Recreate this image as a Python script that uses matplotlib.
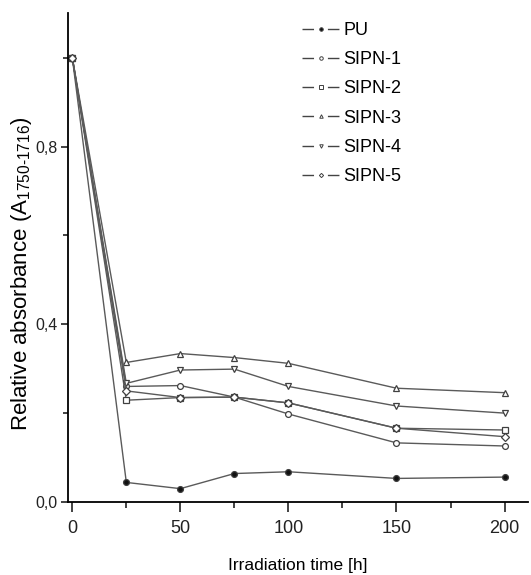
import matplotlib
matplotlib.use("Agg")
import matplotlib.pyplot as plt
from matplotlib.lines import Line2D
from matplotlib.ticker import FixedLocator, FuncFormatter

plt.rcParams['font.family'] = ['Liberation Sans', 'DejaVu Sans']
plt.rcParams['mathtext.fontset'] = 'custom'
plt.rcParams['mathtext.rm'] = 'Liberation Sans'
plt.rcParams['mathtext.it'] = 'Liberation Sans'

# irradiation times [h]
time_h = [0, 25, 50, 75, 100, 150, 200]

# relative absorbance of the carbonyl band
pu = [1.0, 0.044, 0.030, 0.064, 0.068, 0.053, 0.056]
sipn1 = [1.0, 0.260, 0.262, 0.236, 0.198, 0.133, 0.126]
sipn2 = [1.0, 0.229, 0.235, 0.236, 0.223, 0.166, 0.162]
sipn3 = [1.0, 0.314, 0.334, 0.325, 0.312, 0.256, 0.246]
sipn4 = [1.0, 0.267, 0.297, 0.299, 0.260, 0.216, 0.200]
sipn5 = [1.0, 0.250, 0.235, 0.236, 0.223, 0.166, 0.147]

labels = ['PU', 'SIPN-1', 'SIPN-2', 'SIPN-3', 'SIPN-4', 'SIPN-5']
markers = ['o', 'o', 's', '^', 'v', 'D']
series = [pu, sipn1, sipn2, sipn3, sipn4, sipn5]

fig = plt.figure(figsize=(5.31, 5.75), dpi=100)
ax = fig.add_axes([0.128, 0.127, 0.867, 0.85])

handles = []
for y, lab, m in zip(series, labels, markers):
    face = '#111111' if lab == 'PU' else 'white'
    ms = 3.6 if m == 'D' else 4.2
    ax.plot(time_h, y, color='#5a5a5a', lw=1.0, marker=m, ms=ms,
            mfc=face, mec='#404040', mew=0.9)
    # legend entry: line broken around the marker
    handles.append(Line2D([], [], color='#444444', lw=1.0, ls=(0, (8.3, 10, 8.3, 60)),
                          marker=m, ms=ms * 0.6, mfc=face, mec='#404040', mew=0.7, label=lab))

ax.set_xlim(-2, 211)
ax.set_ylim(0, 1.1)
ax.xaxis.set_major_locator(FixedLocator([0, 50, 100, 150, 200]))
ax.xaxis.set_minor_locator(FixedLocator([25, 75, 125, 175]))
ax.yaxis.set_major_locator(FixedLocator([0.0, 0.4, 0.8]))
ax.yaxis.set_minor_locator(FixedLocator([0.2, 0.6, 1.0]))
ax.yaxis.set_major_formatter(FuncFormatter(lambda v, p: f"{v:.1f}".replace('.', ',')))

for s in ['top', 'right']:
    ax.spines[s].set_visible(False)
for s in ['left', 'bottom']:
    ax.spines[s].set_linewidth(1.3)
ax.tick_params(which='both', direction='out', width=1.2, colors='#222222')
ax.tick_params(axis='x', which='major', length=7, pad=6, labelsize=13)
ax.tick_params(axis='x', which='minor', length=4)
ax.tick_params(axis='y', which='major', length=5, pad=2.5, labelsize=11.5)
ax.tick_params(axis='y', which='minor', length=3.5)

ax.set_xlabel('Irradiation time [h]', fontsize=12.5, labelpad=15)
ax.set_ylabel('Relative absorbance (A$_{1750\\text{-}1716}$)', fontsize=16)
ax.yaxis.set_label_coords(-0.074, 0.468)

leg = ax.legend(handles=handles, loc='upper left', bbox_to_anchor=(0.569, 0.962),
                bbox_transform=fig.transFigure, frameon=False,
                prop={'size': 13}, handlelength=2.05,
                handletextpad=0.25, labelspacing=0.68, borderpad=0, borderaxespad=0)

fig.savefig('out.png', dpi=100)
